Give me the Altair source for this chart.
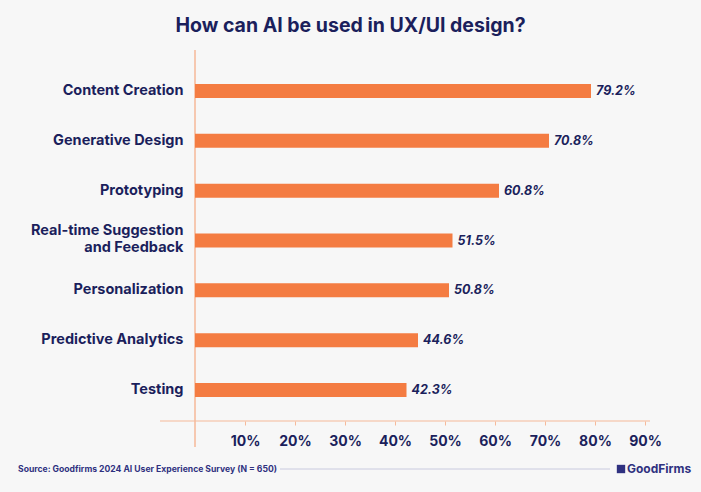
import altair as alt
import pandas as pd

categories = ["Content Creation", "Generative Design", "Prototyping",
              "Real-time Suggestion and Feedback", "Personalization",
              "Predictive Analytics", "Testing"]
values = [79.2, 70.8, 60.8, 51.5, 50.8, 44.6, 42.3]
tick_values = [10, 20, 30, 40, 50, 60, 70, 80, 90]

df = pd.DataFrame({"category": categories, "value": values})
df["label"] = df["value"].map(lambda v: f"{v:.1f}%")

NAVY = "#1b1f5c"
ORANGE = "#f47c42"
LINE = "#f6b999"
FONT = "Inter"

W, H = 455, 361
xs = alt.Scale(domain=[0, 91], nice=False, zero=True)
ys = alt.Scale(domain=categories, paddingInner=0, paddingOuter=0.122)

base = alt.Chart(df)

label_expr = ("datum.label == 'Real-time Suggestion and Feedback' ? "
              "['Real-time Suggestion', 'and Feedback'] : datum.label")

bars = base.mark_bar(color=ORANGE, size=14).encode(
    x=alt.X("value:Q", scale=xs,
            axis=alt.Axis(values=tick_values, title=None, domain=False, grid=False,
                          tickColor=LINE, tickSize=4, labelPadding=9,
                          labelExpr="datum.value + '%'", labelFont=FONT,
                          labelFontSize=14, labelFontWeight="bold", labelColor=NAVY)),
    y=alt.Y("category:N", scale=ys, sort=categories,
            axis=alt.Axis(title=None, domain=False, ticks=False, labelPadding=12,
                          labelExpr=label_expr, labelFont=FONT, labelFontSize=14.5,
                          labelFontWeight="bold", labelColor=NAVY, labelLineHeight=17.5,
                          labelOffset={"condition": {"test": "datum.value == 'Real-time Suggestion and Feedback'",
                                                     "value": -10}, "value": 0},
                          labelLimit=300)),
)

texts = base.mark_text(align="left", dx=5, font=FONT, fontSize=12.5, fontWeight="bold",
                       fontStyle="italic", color=NAVY, baseline="middle").encode(
    x=alt.X("value:Q", scale=xs),
    y=alt.Y("category:N", scale=ys, sort=categories),
    text="label:N",
)

axis_df = pd.DataFrame({"x0": [-7], "x1": [91]})
hline = alt.Chart(axis_df).mark_rule(color=LINE, strokeWidth=1.2).encode(
    x=alt.X("x0:Q", scale=xs), x2="x1:Q", y=alt.value(H))

zero_df = pd.DataFrame({"x": [0]})
vline = alt.Chart(zero_df).mark_rule(color=LINE, strokeWidth=1.5).encode(
    x=alt.X("x:Q", scale=xs), y=alt.value(-10), y2=alt.value(H + 26))

src_df = pd.DataFrame({"t": ["Source: Goodfirms 2024 AI User Experience Survey (N = 650)"]})
source = alt.Chart(src_df).mark_text(align="left", baseline="middle", font=FONT,
                                     fontSize=8.6, fontWeight="bold", color="#2f3180").encode(
    x=alt.value(-177), y=alt.value(409), text="t:N")

sep = alt.Chart(zero_df).mark_rule(color="#c9cadf", strokeWidth=1).encode(
    x=alt.value(85), x2=alt.value(415), y=alt.value(409))

logo_df = pd.DataFrame({"t": ["GoodFirms"]})
logo_icon = alt.Chart(logo_df).mark_point(shape="square", filled=True, color="#2f3180",
                                          size=70, opacity=1).encode(
    x=alt.value(426), y=alt.value(409))
logo_text = alt.Chart(logo_df).mark_text(align="left", baseline="middle", font=FONT,
                                         fontSize=12, fontWeight="bold", color="#2f3180").encode(
    x=alt.value(432), y=alt.value(409), text="t:N")

chart = alt.layer(vline, hline, bars, texts, source, sep, logo_icon, logo_text).properties(
    width=W, height=H,
    title=alt.TitleParams("How can AI be used in UX/UI design?", font=FONT, fontSize=19.5,
                          fontWeight="bold", color=NAVY, anchor="middle", dx=-72, offset=13),
    padding={"left": 195, "top": 60, "right": 51, "bottom": 71},
    autosize=alt.AutoSizeParams(type="none"),
    background="#f7f7f7",
).configure_view(stroke=None)

chart.save("out.html", embed_options={"renderer": "svg", "actions": False})
